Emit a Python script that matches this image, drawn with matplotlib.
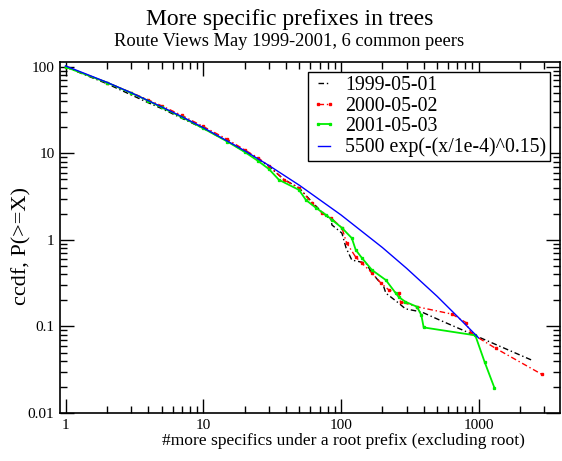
import matplotlib
matplotlib.use("Agg")
import matplotlib.pyplot as plt
from matplotlib.ticker import FixedLocator, LogLocator, NullFormatter

plt.rcParams['font.family'] = ['Liberation Serif', 'DejaVu Serif']

title = "More specific prefixes in trees"
subtitle = "Route Views May 1999-2001, 6 common peers"
xlabel = "#more specifics under a root prefix (excluding root)"
ylabel = "ccdf, P(>=X)"

labels = ["1999-05-01", "2000-05-02", "2001-05-03", "5500 exp(-(x/1e-4)^0.15)"]

x_1999 = [1, 2, 3, 4, 5, 7, 10, 15, 20, 25, 30, 38.6, 49.6, 61.6, 72.8, 84.7, 86.1, 101.7, 109,
          120, 152, 168, 205, 212, 263, 294, 386, 513, 920, 2505]
y_1999 = [100, 64, 47.5, 38.5, 33, 25.5, 19.5, 13.8, 10.5, 8.6, 7.1, 5.0, 4.0, 2.75, 2.1, 1.71, 1.49,
          1.2, 0.81, 0.586, 0.54, 0.415, 0.286, 0.243, 0.186, 0.16, 0.147, 0.12, 0.08, 0.04]

x_2000 = [1, 2, 3, 4, 5, 7, 10, 15, 20, 25, 30, 38.6, 49.6, 61.6, 72.8, 84.7, 101.7, 110, 128, 142,
          168, 195, 223, 263, 271, 357, 641, 809, 885, 1327, 2876]
y_2000 = [100, 66, 50.5, 41.5, 35.5, 27.5, 20.5, 14.5, 11, 8.9, 7.2, 4.95, 4.0, 2.68, 2.05, 1.8, 1.38,
          0.923, 0.635, 0.54, 0.415, 0.318, 0.264, 0.243, 0.193, 0.169, 0.139, 0.111, 0.083, 0.056, 0.028]

x_2001 = [1, 2, 3, 4, 5, 7, 10, 15, 20, 25, 30, 35.5, 49.6, 55.7, 65.9, 77.9, 86.1, 101.7, 120, 128,
          142, 168, 212, 250, 263, 294, 357, 384, 399, 946, 1105, 1300]
y_2001 = [100, 66, 50, 40.5, 34, 26.3, 19.5, 13.7, 10.4, 8.2, 6.6, 4.95, 3.79, 2.9, 2.35, 1.95, 1.71,
          1.38, 1.05, 0.77, 0.62, 0.45, 0.344, 0.243, 0.219, 0.193, 0.169, 0.135, 0.0975, 0.079, 0.039, 0.0197]

x_fit = [1, 2, 3, 5, 7, 10, 20, 30, 50, 100, 200, 300, 500, 700, 1000]
y_fit = [102.8, 66.4, 50.3, 34.5, 26.6, 19.9, 10.75, 7.26, 4.28, 1.95, 0.818, 0.470, 0.223, 0.131, 0.0738]

x_ticks = [1, 10, 100, 1000]
x_ticklabels = ["1", "10", "100", "1000"]
y_ticks = [0.01, 0.1, 1, 10, 100]
y_ticklabels = ["0.01", "0.1", "1", "10", "100"]

W, H = 562, 461
fig = plt.figure(figsize=(W / 100, H / 100), dpi=100)
ax = fig.add_axes([60 / W, 1 - 413 / H, 500 / W, 351 / H])

ax.plot(x_1999, y_1999, color='black', lw=1.0, linestyle=(0, (4, 2, 1, 2)), label=labels[0])
ax.plot(x_2000, y_2000, color='#ff0000', lw=1.0, linestyle=(0, (4, 2, 1, 2)),
        marker='s', ms=1.5, mec='#ff0000', mfc='#ff0000', label=labels[1])
ax.plot(x_2001, y_2001, color='#00ee00', lw=1.3, linestyle='-',
        marker='s', ms=1.4, mec='#00ee00', mfc='#00ee00', label=labels[2])
ax.plot(x_fit, y_fit, color='#0000ff', lw=1.0, label=labels[3])

ax.set_xscale('log')
ax.set_yscale('log')
ax.set_xlim(0.912, 3900)
ax.set_ylim(0.01, 114)

ax.xaxis.set_major_locator(FixedLocator(x_ticks))
ax.set_xticklabels(x_ticklabels)
ax.yaxis.set_major_locator(FixedLocator(y_ticks))
ax.set_yticklabels(y_ticklabels)
ax.xaxis.set_minor_locator(LogLocator(base=10, subs=range(2, 10), numticks=20))
ax.yaxis.set_minor_locator(LogLocator(base=10, subs=range(2, 10), numticks=20))
ax.xaxis.set_minor_formatter(NullFormatter())
ax.yaxis.set_minor_formatter(NullFormatter())

ax.tick_params(which='both', direction='in', top=True, right=True, width=1.0, labelsize=11, colors='black')
ax.tick_params(which='major', length=10, pad=4)
ax.tick_params(which='minor', length=5)
for s in ax.spines.values():
    s.set_linewidth(1.2)

fig.text(290 / W, 1 - 19 / H, title, ha='center', va='center', fontsize=17)
fig.text(289 / W, 1 - 41 / H, subtitle, ha='center', va='center', fontsize=13.3)
fig.text(343 / W, 1 - 441 / H, xlabel, ha='center', va='center', fontsize=12.6)
fig.text(22 / W, 1 - 246 / H, ylabel, ha='center', va='center', rotation=90, fontsize=16)

leg = ax.legend(loc='upper right', bbox_to_anchor=(0.98, 0.9715), borderaxespad=0,
                fontsize=14.3, fancybox=False, framealpha=1, edgecolor='black',
                labelspacing=0.08, borderpad=0.2, handletextpad=0.45, handlelength=1.2,
                numpoints=2)
leg.get_frame().set_linewidth(1.0)

fig.savefig("out.png", dpi=100)
